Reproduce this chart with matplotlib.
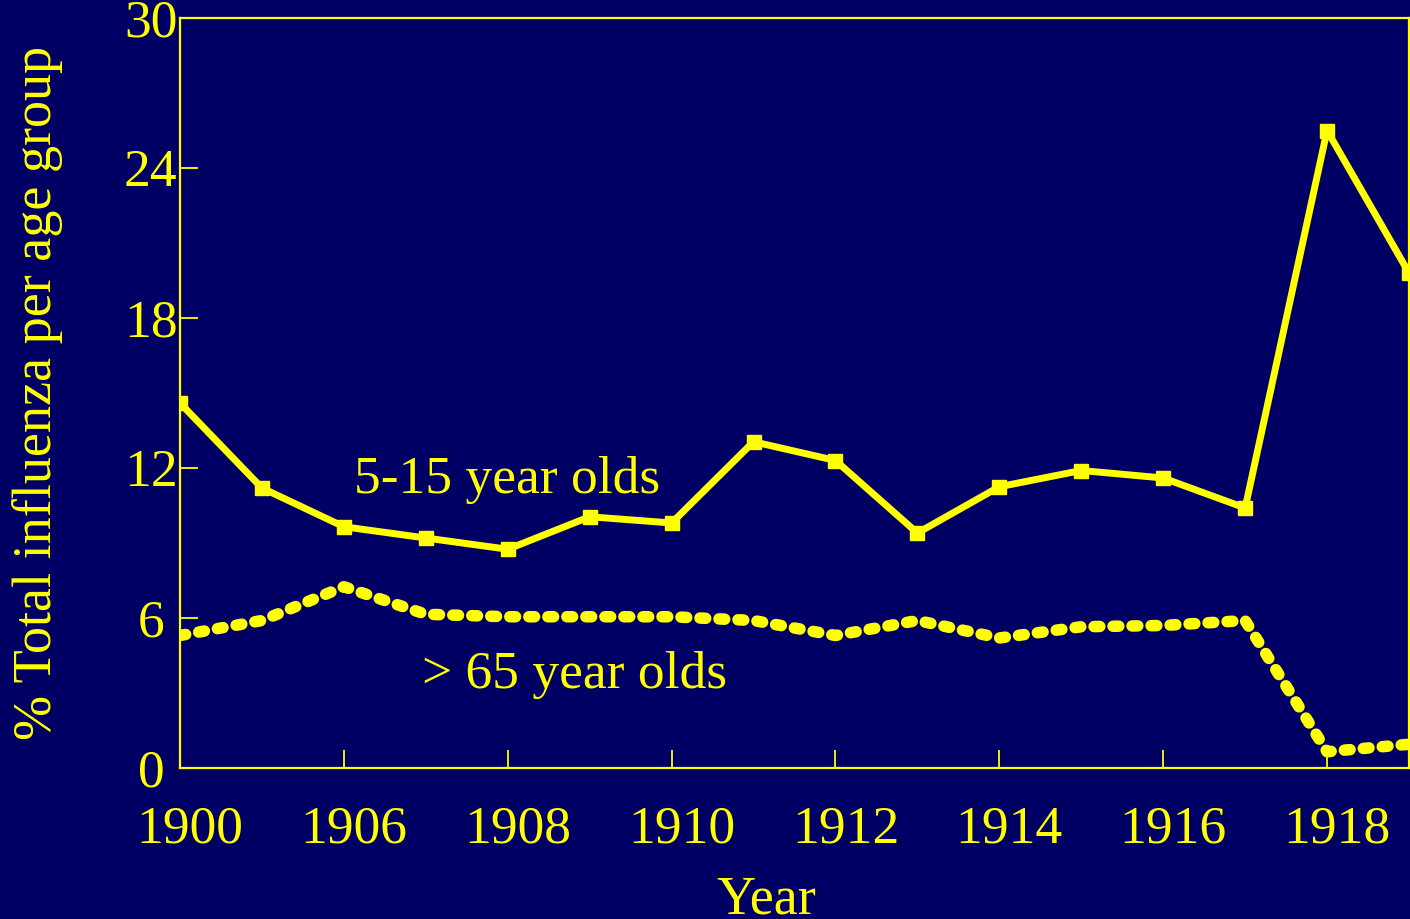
import numpy as np
import matplotlib
matplotlib.use("Agg")
import matplotlib.pyplot as plt
import matplotlib.transforms as mtransforms

# data (16 evenly spaced points)
pts = np.arange(16)
young = [14.6, 11.2, 9.65, 9.2, 8.75, 10.05, 9.8, 13.05, 12.3, 9.4,
         11.25, 11.9, 11.6, 10.4, 25.5, 19.8]
old = [5.3, 5.9, 7.25, 6.15, 6.05, 6.05, 6.05, 5.9, 5.3, 5.9,
       5.2, 5.65, 5.7, 5.9, 0.65, 0.95]
tick_pos = [0, 2, 4, 6, 8, 10, 12, 14]
tick_lab = ["1900", "1906", "1908", "1910", "1912", "1914", "1916", "1918"]
yticks = [0, 6, 12, 18, 24, 30]

bg = "#000064"
fg = "#ffff00"
plt.rcParams["font.family"] = ["Liberation Serif", "DejaVu Serif"]

fig = plt.figure(figsize=(14.1, 9.19), dpi=100)
fig.patch.set_facecolor(bg)
ax = fig.add_axes([180/1410, (919-768)/919, 1229/1410, 750/919])
ax.set_facecolor(bg)

ax.plot(pts, young, color=fg, lw=5, marker="s", ms=9.5, solid_joinstyle="round")
l2, = ax.plot(pts, old, color=fg, lw=8.3, dash_capstyle="round", solid_joinstyle="round")
l2.set_dashes((0.5, 1.15))

ax.set_xlim(0, 15)
ax.set_ylim(0, 30)
ax.set_xticks(tick_pos)
ax.set_xticklabels(tick_lab)
ax.set_yticks(yticks)

for s in ax.spines.values():
    s.set_color(fg)
    s.set_linewidth(1.6)
ax.tick_params(direction="in", length=13, width=1.3, color=fg, labelcolor=fg, labelsize=38.5)
ax.tick_params(axis="x", pad=27)
ax.tick_params(axis="y", pad=21)

shift = mtransforms.ScaledTranslation(0.10, 0, fig.dpi_scale_trans)
for t in ax.get_xticklabels():
    t.set_transform(t.get_transform() + shift)
for t in ax.get_yticklabels():
    t.set_horizontalalignment("center")

fig.text(38/1410, 1 - 393/919, "% Total influenza per age group", color=fg,
         fontsize=39, rotation=90, ha="center", va="center")
fig.text(766/1410, (919-913)/919, "Year", color=fg, fontsize=39,
         ha="center", va="baseline")

ax.text(2.12, 11.0, "5-15 year olds", color=fg, fontsize=38.5, ha="left", va="baseline")
ax.text(2.95, 3.2, "> 65 year olds", color=fg, fontsize=38.5, ha="left", va="baseline")

fig.savefig("out.png", dpi=100, facecolor=bg)
